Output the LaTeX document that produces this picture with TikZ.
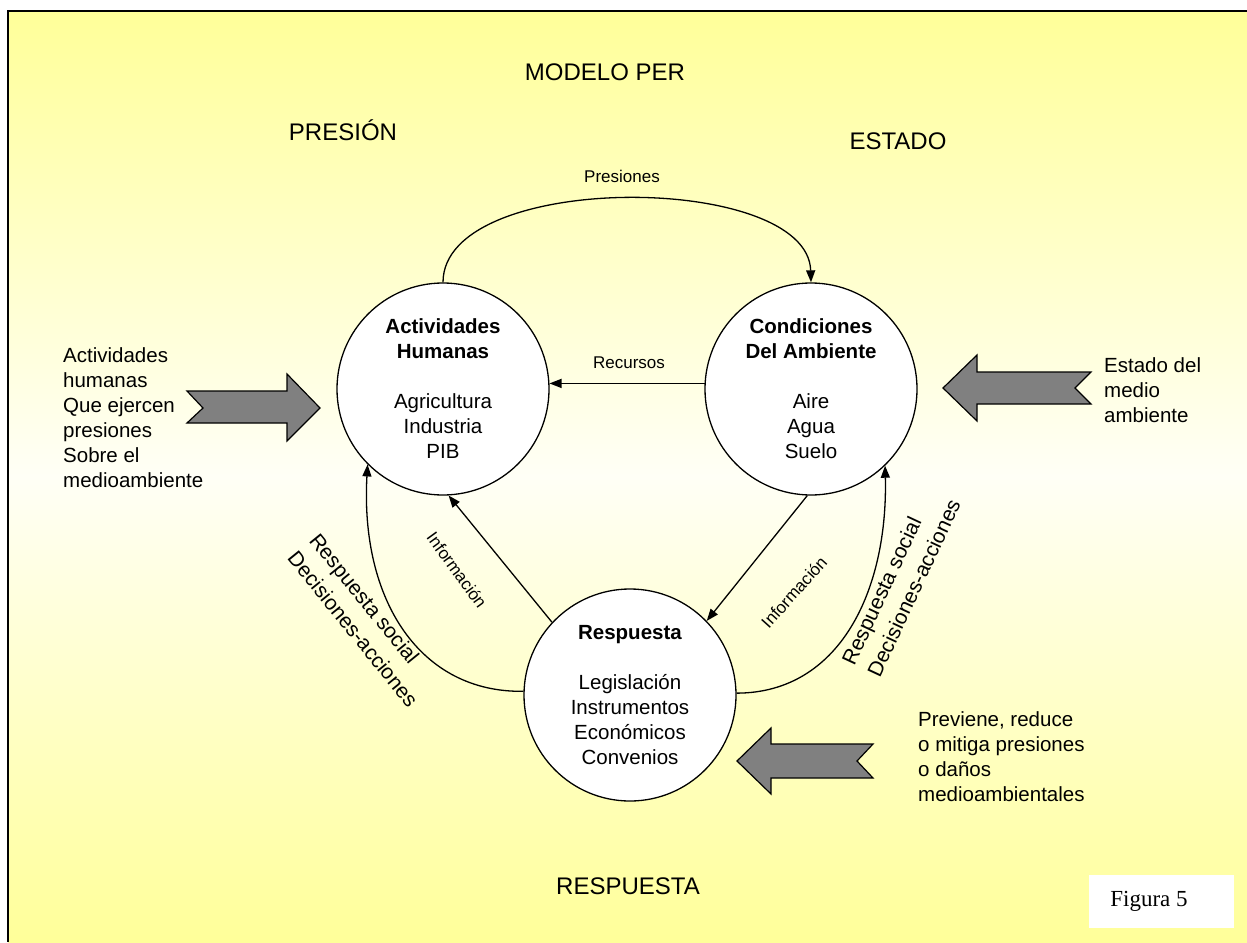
\documentclass[tikz,border=0pt]{standalone}
\usepackage{fontspec}
\setmainfont{Liberation Sans}
\newfontfamily\timesf{Liberation Serif}
\usetikzlibrary{arrows.meta}
\definecolor{bgY}{HTML}{FFFF99}
\definecolor{bgW}{HTML}{FFFFF6}
\definecolor{arrG}{HTML}{808080}
\begin{document}
\begin{tikzpicture}[x=1pt,y=-1pt,
  circ/.style={circle,draw,line width=1.3pt,fill=white,minimum size=212pt,inner sep=0pt,align=center,font=\fontsize{20.5}{25}\selectfont},
  lbl/.style={align=left,font=\fontsize{20.5}{25}\selectfont,inner sep=0pt},
  small/.style={font=\fontsize{17}{20}\selectfont,inner sep=0pt},
  big/.style={font=\fontsize{24}{28}\selectfont,inner sep=0pt},
  rot/.style={align=left,font=\fontsize{21}{28}\selectfont,inner sep=0pt},
  conn/.style={line width=1.3pt,-{Triangle[length=12pt,width=9pt]}},
  blockarrow/.style={fill=arrG,draw=black,line width=1.2pt,line join=miter}]

\useasboundingbox (0,0) rectangle (1247,942);
\fill[white] (0,0) rectangle (1247,942);
\shade[top color=bgY,bottom color=bgY,middle color=bgW] (8,11) rectangle (1247,942);
\draw[line width=2.5pt] (8,942) -- (8,11) -- (1247,11);

% titles
\node[big] (tmodel) at (605,72) {MODELO PER};
\node[big] (tpres) at (343,130) {PRESIÓN};
\node[big] (testado) at (898,141) {ESTADO};
\node[big] (tresp) at (628,886) {RESPUESTA};

% circles
\node[circ] (ah) at (443,389) {\textbf{Actividades}\\\textbf{Humanas}\\[25pt]Agricultura\\Industria\\PIB};
\node[circ] (cd) at (811,389) {\textbf{Condiciones}\\\textbf{Del Ambiente}\\[25pt]Aire\\Agua\\Suelo};
\node[circ] (r) at (630,695) {\textbf{Respuesta}\\[25pt]Legislación\\Instrumentos\\Económicos\\Convenios};

% connectors
\draw[conn] (ah.90) .. controls (443,170) and (808,172) .. (cd.90);
\draw[conn] (cd.177) -- (ah.3);
\draw[conn] (r.137) -- (ah.-87);
\draw[conn] (cd.-92) -- (r.44);
\draw[conn] (r.178) .. controls (420,693) and (360,600) .. (ah.-135);
\draw[conn] (r.1) .. controls (840,693) and (888,590) .. (cd.-46);

% connector labels
\node[small] (lp) at (622,176) {Presiones};
\node[small] (lr) at (629,363) {Recursos};
\node[small,rotate=-54] (li1) at (457,570) {Información};
\node[small,rotate=48] (li2) at (794,592) {Información};
\node[rot,rotate=-51] (lrs1) at (364,620) {Respuesta social\\Decisiones-acciones};
\node[rot,rotate=65] (lrs2) at (901,582) {Respuesta social\\Decisiones-acciones};

% side texts
\node[lbl,anchor=west] (lt) at (63,418) {Actividades\\humanas\\Que ejercen\\presiones\\Sobre el\\medioambiente};
\node[lbl,anchor=west] (rt) at (1104,390) {Estado del\\medio\\ambiente};
\node[lbl,anchor=west] (bt) at (918,757) {Previene, reduce\\o mitiga presiones\\o daños\\medioambientales};

% block arrows
\draw[blockarrow] (187,391) -- (287,391) -- (287,374) -- (320,408) -- (287,441) -- (287,423) -- (187,423) -- (203,408) -- cycle;
\draw[blockarrow] (943,388) -- (977,355) -- (977,372) -- (1091,372) -- (1075,388) -- (1091,404) -- (977,404) -- (977,421) -- cycle;
\draw[blockarrow] (737,761) -- (771,728) -- (771,744) -- (873,744) -- (857,761) -- (873,778) -- (771,778) -- (771,794) -- cycle;

% figure tag
\fill[white] (1089,875) rectangle (1234,928);
\node[font=\timesf\fontsize{23}{26}\selectfont,inner sep=0pt] (fig) at (1149,901) {Figura 5};
\end{tikzpicture}
\end{document}
